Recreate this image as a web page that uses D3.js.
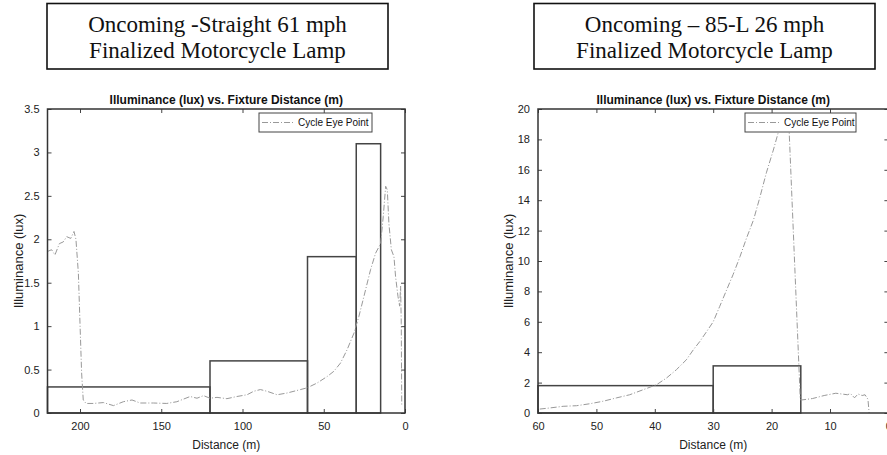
<!DOCTYPE html>
<html lang="en">
<head>
    <meta charset="UTF-8">
    <title>Illuminance vs. Fixture Distance</title>
    <style>
        body { margin: 0; background: #fff; }
        svg { display: block; }
        .tick text { font: 11px Arial, "Liberation Sans", sans-serif; fill: #222; }
        .frame { fill: none; stroke: #333; stroke-width: 1.5px; }
        .step { fill: none; stroke: #444; stroke-width: 1.5px; }
        .eye { fill: none; stroke: #999; stroke-width: 1px; stroke-dasharray: 6,2,1,2; }
        .ptitle { font: bold 12px Arial, "Liberation Sans", sans-serif; fill: #111; }
        .alabel { font: 12px Arial, "Liberation Sans", sans-serif; fill: #222; }
        .legend text { font: 10px Arial, "Liberation Sans", sans-serif; fill: #111; }
        .cap text { font: 23px "Times New Roman", "Liberation Serif", serif; fill: #111; }
    </style>
</head>
<body>
    <svg width="887" height="455"></svg>
    <script src="https://d3js.org/d3.v7.min.js"></script>
    <script>
        // Oncoming - Straight 61 mph (left panel), cycle eye point trace
        const straightDist = [220, 217.5, 215.4, 212.7, 210.3, 208.2, 205.7, 203.7, 202.5, 201, 200, 199, 198, 196.3,
            191.8, 185.6, 179.4, 173.3, 168, 163, 154.8, 146.6, 140.4, 132.2, 128, 124, 120, 115.7, 109.6, 103.4,
            97.2, 93.1, 89, 84.9, 78.7, 72.6, 64.3, 60.2, 54.1, 47.9, 43.8, 39.7, 35.6, 31.4, 28.4, 25.3, 21.2,
            18.1, 15, 13.4, 11.9, 10.9, 9.9, 8.4, 6.8, 5.8, 4.3, 3.3, 2.7, 2.3, 2];
        const straightLux = [1.86, 1.88, 1.82, 1.95, 1.97, 2.03, 2.01, 2.09, 2.0, 1.61, 1.03, 0.46, 0.15, 0.11,
            0.11, 0.12, 0.085, 0.13, 0.15, 0.115, 0.115, 0.11, 0.13, 0.19, 0.17, 0.2, 0.17, 0.18, 0.165, 0.19,
            0.21, 0.25, 0.27, 0.25, 0.21, 0.23, 0.27, 0.29, 0.345, 0.42, 0.48, 0.575, 0.73, 0.92, 1.11, 1.34, 1.65,
            1.84, 1.95, 2.26, 2.61, 2.57, 2.18, 1.88, 1.8, 1.57, 1.34, 1.23, 1.46, 1.03, 0.08];

        // Oncoming - 85-L 26 mph (right panel)
        const leftTurnDist = [59.7, 58, 55.7, 53.4, 51.1, 48.9, 46.6, 44.3, 42, 39.7, 38, 36.3, 34.6, 33.4, 32.3,
            31.1, 30, 28.9, 27.7, 26.6, 25.4, 24.3, 23.1, 22, 20.9, 19.7, 18.9, 18.3, 17.7, 17, 15.1, 15, 13, 11,
            9, 8, 7, 6.5, 5.8, 5.2, 4.5, 4, 3.5, 3.3];
        const leftTurnLux = [0.26, 0.33, 0.44, 0.48, 0.61, 0.77, 0.99, 1.2, 1.53, 1.86, 2.3, 2.85, 3.5, 4.16, 4.7,
            5.37, 6.0, 7.0, 8.1, 9.1, 10.3, 11.5, 12.7, 14.2, 15.8, 17.3, 18.4, 18.9, 19.4, 18.6, 1.0, 0.85, 0.95,
            1.15, 1.3, 1.25, 1.2, 1.28, 1.0, 1.25, 1.15, 1.2, 0.9, 0];

        // required illuminance steps (distance band start/end, lux)
        const straightStepFrom = [220, 120, 60, 30];
        const straightStepTo = [120, 60, 30, 15];
        const straightStepLux = [0.3, 0.6, 1.8, 3.1];
        const leftTurnStepFrom = [60, 30];
        const leftTurnStepTo = [30, 15];
        const leftTurnStepLux = [1.8, 3.1];

        const straightXTicks = [200, 150, 100, 50, 0];
        const straightYTicks = [0, 0.5, 1, 1.5, 2, 2.5, 3, 3.5];
        const leftTurnXTicks = [60, 50, 40, 30, 20, 10, 0];
        const leftTurnYTicks = [0, 2, 4, 6, 8, 10, 12, 14, 16, 18, 20];

        const captions = [
            ["Oncoming -Straight 61 mph", "Finalized Motorcycle Lamp"],
            ["Oncoming \u2013 85-L 26 mph", "Finalized Motorcycle Lamp"]
        ];

        const svg = d3.select("svg");

        // caption boxes above each plot
        function caption(lines, x0, x1) {
            const g = svg.append("g").attr("class", "cap");
            g.append("rect")
                .attr("x", x0).attr("y", 3.5)
                .attr("width", x1 - x0).attr("height", 65.5)
                .attr("fill", "none").attr("stroke", "#111").attr("stroke-width", 1.6);
            g.selectAll("text").data(lines).join("text")
                .attr("x", (x0 + x1) / 2)
                .attr("y", (d, i) => 32 + i * 25.5)
                .attr("text-anchor", "middle")
                .text(d => d);
        }
        caption(captions[0], 47, 388);
        caption(captions[1], 534, 875);

        function panel(opt) {
            const x = d3.scaleLinear().domain(opt.xDomain).range([opt.left, opt.right]);
            const y = d3.scaleLinear().domain(opt.yDomain).range([413, 109]);
            const g = svg.append("g");

            // ticks on all four sides, pointing inward (MATLAB style)
            g.append("g").attr("transform", "translate(0,413)")
                .call(d3.axisBottom(x).tickValues(opt.xTicks).tickSizeInner(-4).tickSizeOuter(0).tickPadding(9).tickFormat(d3.format("")))
                .call(a => a.select(".domain").remove())
                .call(a => a.selectAll("line").attr("stroke", "#444"));
            g.append("g").attr("transform", "translate(0,109)")
                .call(d3.axisTop(x).tickValues(opt.xTicks).tickSizeInner(-4).tickSizeOuter(0).tickFormat(""))
                .call(a => a.select(".domain").remove())
                .call(a => a.selectAll("line").attr("stroke", "#444"));
            g.append("g").attr("transform", `translate(${opt.left},0)`)
                .call(d3.axisLeft(y).tickValues(opt.yTicks).tickSizeInner(-4).tickSizeOuter(0).tickPadding(8).tickFormat(d3.format("")))
                .call(a => a.select(".domain").remove())
                .call(a => a.selectAll("line").attr("stroke", "#444"));
            g.append("g").attr("transform", `translate(${opt.right},0)`)
                .call(d3.axisRight(y).tickValues(opt.yTicks).tickSizeInner(-4).tickSizeOuter(0).tickFormat(""))
                .call(a => a.select(".domain").remove())
                .call(a => a.selectAll("line").attr("stroke", "#444"));

            // step rectangles
            const steps = opt.stepFrom.map((f, i) => ({ from: f, to: opt.stepTo[i], lux: opt.stepLux[i] }));
            g.selectAll("rect.step").data(steps).join("rect")
                .attr("class", "step")
                .attr("x", d => x(d.from))
                .attr("y", d => y(d.lux))
                .attr("width", d => x(d.to) - x(d.from))
                .attr("height", d => y(0) - y(d.lux));

            // cycle eye point trace
            const pts = opt.dist.map((d, i) => [d, opt.lux[i]]);
            g.append("path")
                .attr("class", "eye")
                .attr("d", d3.line().x(d => x(d[0])).y(d => y(d[1]))(pts));

            // axes frame
            g.append("rect").attr("class", "frame")
                .attr("x", opt.left).attr("y", 109)
                .attr("width", opt.right - opt.left).attr("height", 304);

            // legend (white background hides the trace behind it)
            const lg = g.append("g").attr("class", "legend");
            lg.append("rect")
                .attr("x", opt.legX).attr("y", 113).attr("width", opt.legW).attr("height", 19)
                .attr("fill", "#fff").attr("stroke", "#444").attr("stroke-width", 1);
            lg.append("line").attr("class", "eye")
                .attr("x1", opt.legX + 3).attr("x2", opt.legX + 36)
                .attr("y1", 122.5).attr("y2", 122.5);
            lg.append("text")
                .attr("x", opt.legX + 39).attr("y", 126)
                .text("Cycle Eye Point");

            // titles
            const cx = (opt.left + opt.right) / 2;
            g.append("text").attr("class", "ptitle")
                .attr("x", cx).attr("y", 104).attr("text-anchor", "middle")
                .text("Illuminance (lux) vs. Fixture Distance (m)");
            g.append("text").attr("class", "alabel")
                .attr("x", cx).attr("y", 449).attr("text-anchor", "middle")
                .text("Distance (m)");
            g.append("text").attr("class", "alabel")
                .attr("transform", `translate(${opt.left - 25},261) rotate(-90)`)
                .attr("text-anchor", "middle")
                .style("font-size", "13px")
                .text("Illuminance (lux)");
        }

        panel({
            left: 47.5, right: 405,
            xDomain: [220, 0], yDomain: [0, 3.5],
            xTicks: straightXTicks, yTicks: straightYTicks,
            dist: straightDist, lux: straightLux,
            stepFrom: straightStepFrom, stepTo: straightStepTo, stepLux: straightStepLux,
            legX: 259, legW: 113
        });

        panel({
            left: 538, right: 888.4,
            xDomain: [60, 0], yDomain: [0, 20],
            xTicks: leftTurnXTicks, yTicks: leftTurnYTicks,
            dist: leftTurnDist, lux: leftTurnLux,
            stepFrom: leftTurnStepFrom, stepTo: leftTurnStepTo, stepLux: leftTurnStepLux,
            legX: 745, legW: 111
        });
    </script>
</body>
</html>
